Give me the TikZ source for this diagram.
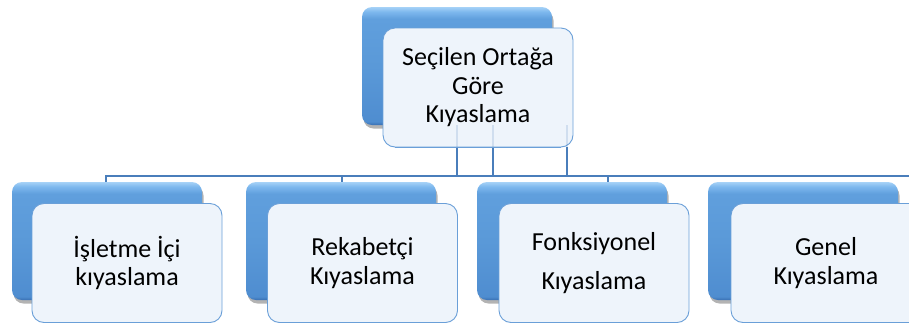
\documentclass[tikz,border=0pt]{standalone}
\usepackage{fontspec}
\setmainfont{Carlito}
\usetikzlibrary{shadows}
\definecolor{connblue}{HTML}{4A7EBB}
\definecolor{boxhi}{HTML}{A6D2F7}
\definecolor{boxhi2}{HTML}{7DB8EE}
\definecolor{boxtop}{HTML}{609FDD}
\definecolor{boxmid}{HTML}{5A99D8}
\definecolor{boxbot}{HTML}{4F8DD0}
\definecolor{boxrim}{HTML}{3A70B2}
\definecolor{cardfill}{HTML}{EEF4FB}
\definecolor{cardline}{HTML}{6A9FD8}
\pgfdeclareverticalshading{boxshade}{100bp}{%
  color(0bp)=(boxrim); color(25bp)=(boxrim); color(26.5bp)=(boxbot);
  color(50bp)=(boxmid); color(70bp)=(boxtop); color(73bp)=(boxhi2); color(75bp)=(boxhi); color(100bp)=(boxhi)}
\begin{document}
\begin{tikzpicture}[x=1pt,y=-1pt,
  bluebox/.style={rectangle, rounded corners=10pt, minimum width=190pt, minimum height=118pt,
    inner sep=0pt, draw=none, shading=boxshade,
    drop shadow={shadow xshift=1.5pt, shadow yshift=-3.5pt, opacity=0.4, fill=black!75}},
  card/.style={rectangle, rounded corners=12pt, minimum width=190pt, minimum height=119pt,
    inner sep=0pt, draw=cardline, line width=0.9pt, fill=cardfill,
    align=center, font=\fontsize{26}{28.5}\selectfont},
  connline/.style={draw=connblue, line width=2pt},
  faintline/.style={draw=connblue, line width=2pt, draw opacity=0.18}]
\useasboundingbox (0,0) rectangle (909,325);

% bus coordinates
\coordinate (bus1) at (106,176);
\coordinate (bus2) at (342,176);
\coordinate (bus3) at (608,176);
\coordinate (busend) at (914,176);
\coordinate (up1) at (457,176);
\coordinate (up2) at (493,176);
\coordinate (up3) at (567,176);

% blue boxes
\node[bluebox] (b0) at (457,66) {};
\node[bluebox] (b1) at (107,241) {};
\node[bluebox] (b2) at (341,241) {};
\node[bluebox] (b3) at (572,241) {};
\node[bluebox] (b4) at (803,241) {};

% cards with text
\node[card] (w0) at (478,87.5) {Seçilen Ortağa\\Göre\\Kıyaslama};
\node[card] (w1) at (127,263) {İşletme İçi\\kıyaslama};
\node[card] (w2) at (362.5,263) {Rekabetçi\\Kıyaslama};
\node[card] (w3) at (594,263) {Fonksiyonel\\[11pt]Kıyaslama};
\node[card] (w4) at (826,263) {Genel\\Kıyaslama};

% connectors
\draw[connline] (b1.north -| bus1) -- (bus1) -- (busend);
\draw[connline] (bus2) -- (b2.north -| bus2);
\draw[connline] (bus3) -- (b3.north -| bus3);
\draw[connline] (w0.south -| up1) -- (up1);
\draw[connline] (w0.south -| up2) -- (up2);
\draw[connline] (w0.south -| up3) -- (up3);
% parts seen through the translucent card
\draw[faintline] (b0.south -| up1) -- (w0.south -| up1);
\draw[faintline] (b0.south -| up2) -- (w0.south -| up2);
\draw[faintline] (b0.south -| up3) -- (w0.south -| up3);
% card border over the connector ends
\draw[cardline, line width=0.9pt] ([xshift=12pt]w0.south west) -- ([xshift=-12pt]w0.south east);
\end{tikzpicture}
\end{document}
